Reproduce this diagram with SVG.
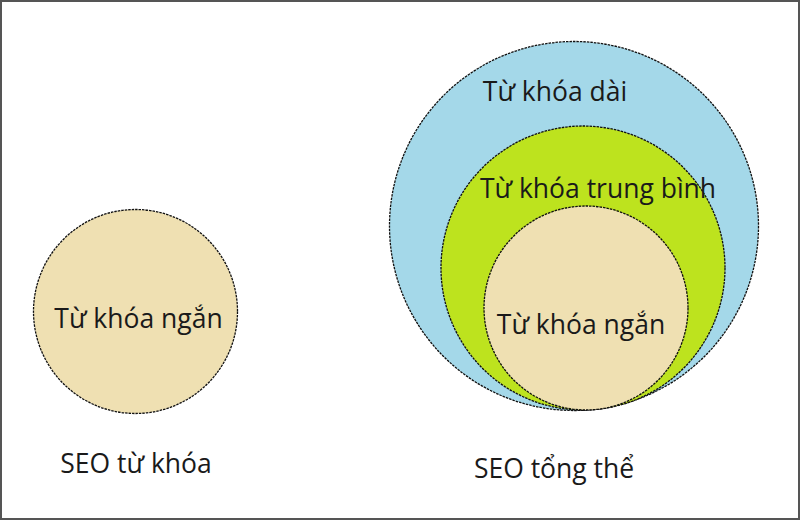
<svg xmlns="http://www.w3.org/2000/svg" width="800" height="520" viewBox="0 0 800 520">
<style>
.c{stroke:#111;stroke-width:1.3;stroke-dasharray:2.5 1}
.t{font-family:"Open Sans","Noto Sans","DejaVu Sans",sans-serif;font-size:26.5px;fill:#1a1a1a}
</style>
<rect x="1" y="1" width="798" height="518" fill="#fff" stroke="#555" stroke-width="2"/>
<g id="left-short">
<circle class="c" cx="135.5" cy="311.5" r="102" fill="#efe0b2"/>
<text class="t" x="138.5" y="328" text-anchor="middle">Từ khóa ngắn</text>
</g>
<g id="long">
<circle class="c" cx="574" cy="226" r="184.5" fill="#a4d8e9"/>
<text class="t" x="555" y="101" text-anchor="middle">Từ khóa dài</text>
</g>
<g id="medium">
<circle class="c" cx="583" cy="268" r="142" fill="#bde31e"/>
<text class="t" x="598" y="198" text-anchor="middle">Từ khóa trung bình</text>
</g>
<g id="short">
<circle class="c" cx="586" cy="308" r="102" fill="#efe0b2"/>
<text class="t" x="581" y="334" text-anchor="middle">Từ khóa ngắn</text>
</g>
<g id="labels">
<text class="t" x="136" y="473" text-anchor="middle">SEO từ khóa</text>
<text class="t" x="554" y="478" text-anchor="middle">SEO tổng thể</text>
</g>
</svg>
